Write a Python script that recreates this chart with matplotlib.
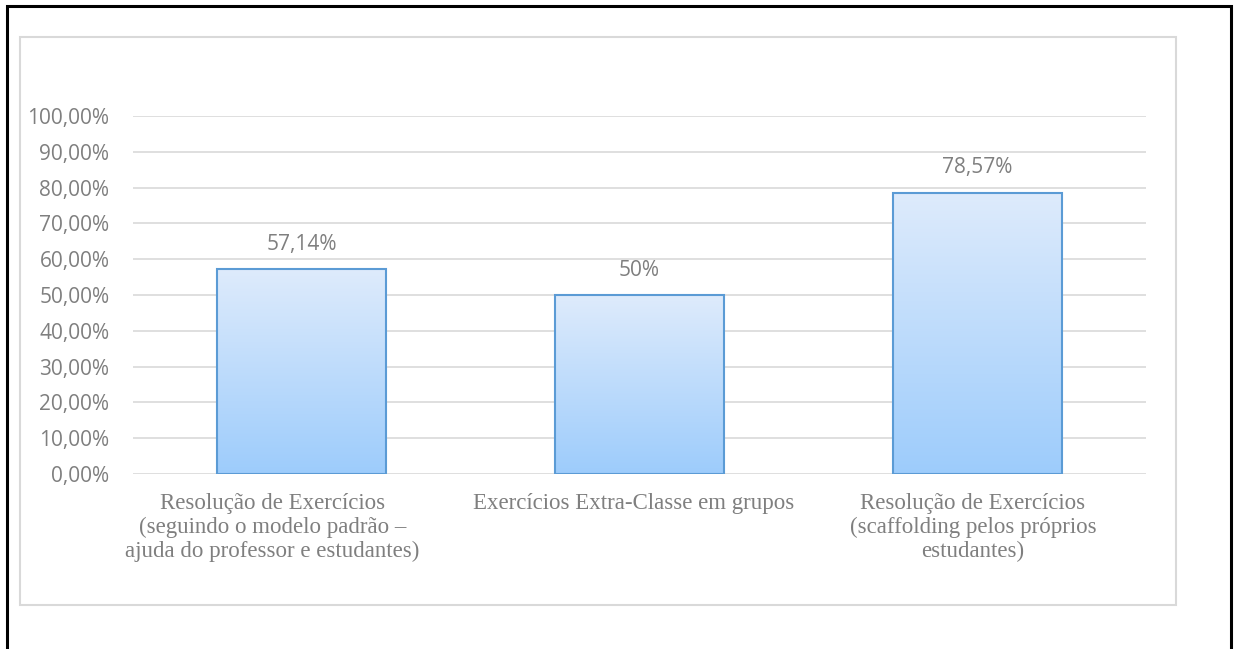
"""
Percentual de acertos por tipo de atividade (gráfico de barras com gradiente).
"""

import matplotlib

matplotlib.use("Agg")
import matplotlib.pyplot as plt
import numpy as np
from matplotlib.colors import LinearSegmentedColormap
from matplotlib.patches import Rectangle

CATEGORIES = [
    "Resolução de Exercícios\n(seguindo o modelo padrão –\najuda do professor e estudantes)",
    "Exercícios Extra-Classe em grupos",
    "Resolução de Exercícios\n(scaffolding pelos próprios\nestudantes)",
]
VALUES = [0.5714, 0.50, 0.7857]
VALUE_LABELS = ["57,14%", "50%", "78,57%"]
Y_TICKS = [0.0, 0.1, 0.2, 0.3, 0.4, 0.5, 0.6, 0.7, 0.8, 0.9, 1.0]
Y_TICK_LABELS = ["0,00%", "10,00%", "20,00%", "30,00%", "40,00%", "50,00%",
                 "60,00%", "70,00%", "80,00%", "90,00%", "100,00%"]

# deslocamento horizontal (pt) dos rótulos de categoria, como no original
LABEL_SHIFT = [-21, -4, -3]

TEXT_GRAY = "#7F7F7F"
GRID_GRAY = "#D9D9D9"
EDGE_BLUE = "#5B9BD5"
# gradiente: topo claro -> base mais saturada
BAR_CMAP = LinearSegmentedColormap.from_list("bar", ["#9DCCFB", "#DEEBFC"])

fig = plt.figure(figsize=(12.35, 6.49), dpi=100)

# moldura preta externa (parte inferior fica fora da imagem)
fig.add_artist(Rectangle((7 / 1235, -0.05), 1224 / 1235, 1.05 - 6 / 649,
                         transform=fig.transFigure, fill=False,
                         edgecolor="black", linewidth=2.2))
# área do gráfico (borda cinza)
fig.add_artist(Rectangle((20 / 1235, 1 - 605 / 649), 1156 / 1235, 568 / 649,
                         transform=fig.transFigure, fill=False,
                         edgecolor=GRID_GRAY, linewidth=1.5))

ax = fig.add_axes([133 / 1235, 1 - 474 / 649, 1013 / 1235, 358 / 649])

x = np.arange(len(CATEGORIES))
bars = ax.bar(x, VALUES, width=0.5, facecolor="none", edgecolor=EDGE_BLUE,
              linewidth=1.5, zorder=3)

gradient = np.linspace(0, 1, 256).reshape(-1, 1)
for bar in bars:
    x0, w, h = bar.get_x(), bar.get_width(), bar.get_height()
    ax.imshow(gradient, extent=[x0, x0 + w, 0, h], origin="lower",
              aspect="auto", cmap=BAR_CMAP, zorder=2)

for bar, label in zip(bars, VALUE_LABELS):
    ax.annotate(label, xy=(bar.get_x() + bar.get_width() / 2, bar.get_height()),
                xytext=(0, 18), textcoords="offset points", ha="center",
                va="center", fontsize=15, color=TEXT_GRAY, family="Open Sans")

for pos, name, shift in zip(x, CATEGORIES, LABEL_SHIFT):
    ax.annotate(name, xy=(pos, 0), xycoords=("data", "axes fraction"),
                xytext=(shift, -14), textcoords="offset points",
                ha="center", va="top", multialignment="center",
                fontsize=16.5, color=TEXT_GRAY, family="Liberation Serif",
                linespacing=1.15)

ax.set_xlim(-0.5, len(CATEGORIES) - 0.5)
ax.set_ylim(0, 1)
ax.set_yticks(Y_TICKS)
ax.set_yticklabels(Y_TICK_LABELS, fontsize=15, color=TEXT_GRAY, family="Open Sans")
ax.set_xticks([])
ax.tick_params(axis="both", length=0)
ax.tick_params(axis="y", pad=17)

ax.grid(axis="y", color=GRID_GRAY, linewidth=1.2, zorder=0)
ax.set_axisbelow(True)
for spine in ax.spines.values():
    spine.set_visible(False)

fig.savefig("out.png", dpi=100)
